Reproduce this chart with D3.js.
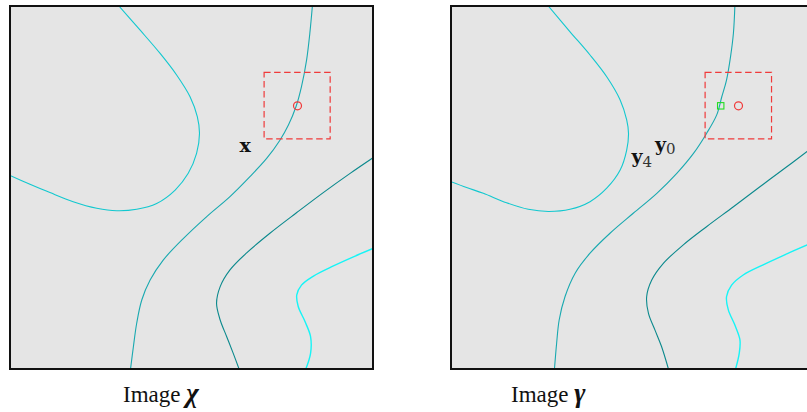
<!DOCTYPE html>
<html>
<head>
<meta charset="utf-8">
<script src="https://cdn.jsdelivr.net/npm/d3@7"></script>
<style>
  html, body { margin: 0; padding: 0; background: #ffffff; }
  svg { display: block; }
</style>
</head>
<body>
<svg id="chart" width="807" height="412"></svg>
<script>
// ---------------- DATA (panel units, 0..100 on both axes, y downward) ----------------
// Image chi contour curves
const chiCurveA = [[30.0,0],[35.8,6.6],[41.3,13.0],[45.9,19.0],[49.6,25.0],[51.6,30.5],[52.2,35.1],[51.4,40.6],[49.1,46.1],[45.5,50.7],[40.4,54.4],[34.9,56.0],[29.4,56.4],[23.9,55.7],[17.4,53.9],[11.0,51.4],[5.5,49.1],[0,46.7]];
const chiCurveB = [[83.3,0],[82.6,7.5],[81.7,14.9],[80.3,22.2],[78.8,27.7],[76.7,32.8],[74.4,36.9],[70.7,42.0],[66.1,47.0],[60.6,52.5],[54.2,58.0],[47.8,64.0],[42.2,70.0],[38.6,75.5],[36.3,81.0],[34.9,87.4],[34.0,93.8],[33.2,100]];
const chiCurveC = [[100,41.8],[93.7,46.1],[86.3,51.4],[79.0,56.9],[71.6,62.6],[65.2,68.0],[60.6,72.7],[57.9,77.3],[56.9,81.9],[57.9,86.5],[59.7,91.1],[61.5,95.7],[63.1,100]];
const chiCurveD = [[100,66.8],[94.6,69.1],[89.1,71.6],[83.6,74.4],[80.3,76.9],[79.0,79.6],[79.4,82.8],[81.3,87.0],[82.8,91.1],[82.8,95.7],[81.5,100]];

// Image gamma contour curves
const gammaCurveA = [[26.8,0],[32.8,7.1],[38.3,13.5],[42.9,19.5],[46.6,25.9],[48.4,31.4],[48.9,35.1],[48.4,39.7],[46.6,45.2],[42.9,50.2],[38.3,53.9],[32.8,56.0],[26.8,56.6],[21.3,56.0],[15.3,54.2],[8.9,51.6],[4.3,50.0],[0,48.4]];
const gammaCurveB = [[78.2,0],[77.8,7.5],[77.0,14.0],[75.9,20.4],[74.6,25.0],[73.2,30.0],[70.4,35.1],[66.8,40.6],[62.2,46.1],[56.7,51.6],[50.2,57.1],[43.8,62.6],[38.3,68.1],[34.2,73.6],[31.4,80.1],[29.8,86.5],[29.1,92.9],[28.5,100]];
const gammaCurveC = [[100,38.7],[98.1,40.1],[92.5,44.3],[85.1,49.8],[77.8,55.3],[70.4,60.8],[64.0,65.8],[58.5,70.9],[55.3,75.5],[53.9,80.1],[54.4,84.7],[56.2,89.3],[58.0,93.8],[59.9,100]];
const gammaCurveD = [[100,65.0],[98.1,65.8],[92.5,68.3],[86.0,71.3],[80.5,74.1],[77.3,76.9],[75.9,80.1],[76.4,83.7],[78.2,87.9],[79.6,92.0],[79.4,95.7],[78.4,100]];

// Search window [x0, y0, x1, y1] and marked points
const chiWindow   = [70.0, 18.3, 88.2, 36.6];
const gammaWindow = [70.0, 18.3, 88.3, 36.6];
const chiPoint    = [79.2, 27.5];
const gammaPoint  = [79.2, 27.5];
const gammaMatch  = [74.3, 27.5];

// Text labels
const chiLabels   = [{text: "x", sub: "", at: [63.2, 40.2]}];
const gammaLabels = [{text: "y", sub: "0", at: [56.2, 39.9]}, {text: "y", sub: "4", at: [49.7, 43.3]}];
const titles = ["Image ", "Image "];
const titleSymbols = ["χ", "γ"];

// ---------------- LAYOUT / STYLE ----------------
const W = 807, H = 412;
const PANEL = 363;
const panels = [
  {left: 10,  top: 6, curves: [chiCurveA, chiCurveB, chiCurveC, chiCurveD], win: chiWindow, circle: chiPoint, square: null, labels: chiLabels, titleX: 123, title: titles[0], sym: titleSymbols[0]},
  {left: 451, top: 6, curves: [gammaCurveA, gammaCurveB, gammaCurveC, gammaCurveD], win: gammaWindow, circle: gammaPoint, square: gammaMatch, labels: gammaLabels, titleX: 511, title: titles[1], sym: titleSymbols[1]}
];
const curveColors = ["#12c8cf", "#19a9b0", "#0b898d", "#16f4f6"];
const curveWidths = [1.1, 1.1, 1.1, 1.4];

const svg = d3.select("#chart");
const x = d3.scaleLinear().domain([0, 100]).range([0, PANEL]);
const y = d3.scaleLinear().domain([0, 100]).range([0, PANEL]);
const line = d3.line().x(d => x(d[0])).y(d => y(d[1])).curve(d3.curveCatmullRom.alpha(0.5));

panels.forEach((p, i) => {
  const g = svg.append("g").attr("transform", `translate(${p.left},${p.top})`);
  const clipId = "clip" + i;
  g.append("clipPath").attr("id", clipId).append("rect")
    .attr("x", 0).attr("y", 0).attr("width", PANEL).attr("height", PANEL);

  g.append("rect").attr("x", 0).attr("y", 0).attr("width", PANEL).attr("height", PANEL)
    .attr("fill", "#e5e5e5");

  const cg = g.append("g").attr("clip-path", `url(#${clipId})`);
  cg.selectAll("path.contour").data(p.curves).join("path")
    .attr("class", "contour")
    .attr("d", line)
    .attr("fill", "none")
    .attr("stroke", (d, k) => curveColors[k])
    .attr("stroke-width", (d, k) => curveWidths[k]);

  // search window
  g.append("rect")
    .attr("x", x(p.win[0])).attr("y", y(p.win[1]))
    .attr("width", x(p.win[2]) - x(p.win[0])).attr("height", y(p.win[3]) - y(p.win[1]))
    .attr("fill", "none").attr("stroke", "#f03a3a").attr("stroke-width", 1.2)
    .attr("stroke-dasharray", "6.5,3.5");

  g.append("circle").attr("cx", x(p.circle[0])).attr("cy", y(p.circle[1])).attr("r", 4)
    .attr("fill", "none").attr("stroke", "#f03a3a").attr("stroke-width", 1.2);

  if (p.square) {
    g.append("rect").attr("x", x(p.square[0]) - 3.2).attr("y", y(p.square[1]) - 3.2)
      .attr("width", 6.4).attr("height", 6.4)
      .attr("fill", "none").attr("stroke", "#22dd22").attr("stroke-width", 1.1);
  }

  // labels
  p.labels.forEach(l => {
    const t = g.append("text").attr("x", x(l.at[0])).attr("y", y(l.at[1]))
      .attr("font-family", "DejaVu Serif").attr("fill", "#111");
    t.append("tspan").attr("font-weight", "bold").attr("font-size", 19).text(l.text);
    if (l.sub) {
      t.append("tspan").attr("font-size", 15).attr("dy", 3.5).attr("fill", "#333").text(l.sub);
    }
  });

  // border
  g.append("rect").attr("x", 0).attr("y", 0).attr("width", PANEL).attr("height", PANEL)
    .attr("fill", "none").attr("stroke", "#111").attr("stroke-width", 2);

  // title
  const tt = svg.append("text").attr("x", p.titleX).attr("y", 402)
    .attr("font-family", "Liberation Serif").attr("font-size", 23).attr("fill", "#111");
  tt.append("tspan").text(p.title);
  tt.append("tspan").attr("font-weight", "bold").attr("font-style", "italic").attr("font-size", 27).text(p.sym);
});
</script>
</body>
</html>
